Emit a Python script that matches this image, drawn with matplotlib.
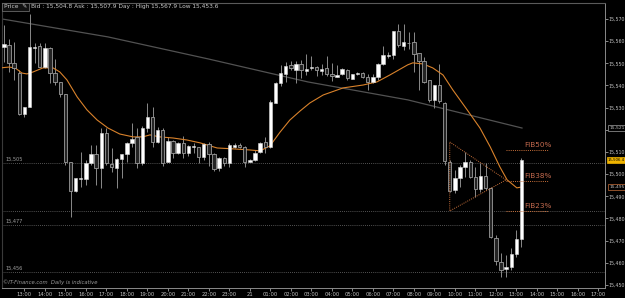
import matplotlib
matplotlib.use("Agg")
import matplotlib.pyplot as plt
import numpy as np

# 15-minute candles, 20th 12:00 -> 21st 13:15
opens = [15557.5, 15558.3, 15550.0, 15545.5, 15527.0, 15530.5, 15556.8, 15558.0, 15548.5, 15556.8,
         15545.8, 15541.7, 15536.2, 15505.6, 15492.6, 15497.8, 15497.7, 15504.9, 15509.0, 15502.6,
         15518.4, 15504.6, 15502.9, 15507.0, 15509.1, 15513.9, 15516.9, 15504.9, 15520.7, 15525.6,
         15514.7, 15519.9, 15505.6, 15515.0, 15509.4, 15513.9, 15509.7, 15512.1, 15512.4, 15507.6,
         15513.6, 15509.1, 15502.6, 15507.2, 15504.9, 15512.4, 15513.2, 15512.4, 15505.6, 15506.4,
         15510.2, 15514.7, 15512.4, 15532.3, 15541.3, 15545.2, 15549.3, 15547.0, 15549.7, 15546.7,
         15547.7, 15548.5, 15546.7, 15547.7, 15545.2, 15544.0, 15545.2, 15547.0, 15543.1, 15545.2,
         15545.8, 15544.0, 15541.7, 15543.7, 15549.7, 15553.3, 15553.8, 15564.6, 15558.0, 15559.3,
         15559.8, 15554.5, 15551.2, 15542.5, 15533.5, 15540.2, 15532.3, 15505.6, 15492.9, 15498.1,
         15503.1, 15505.6, 15498.9, 15493.2, 15499.2, 15493.6, 15471.1, 15460.5, 15457.1, 15458.3,
         15464.0, 15470.6]
highs = [15567.3, 15560.8, 15559.8, 15547.0, 15530.5, 15572.3, 15559.3, 15559.3, 15559.3, 15557.5,
         15551.8, 15541.7, 15536.2, 15505.6, 15498.1, 15510.2, 15506.4, 15513.2, 15513.2, 15520.7,
         15520.7, 15511.7, 15507.2, 15509.1, 15514.7, 15522.9, 15520.7, 15521.7, 15532.3, 15530.2,
         15521.1, 15520.7, 15516.9, 15515.4, 15514.7, 15517.2, 15513.2, 15513.9, 15512.4, 15514.2,
         15514.7, 15509.4, 15507.9, 15507.9, 15513.9, 15514.2, 15514.2, 15512.7, 15506.7, 15510.9,
         15514.7, 15516.6, 15533.5, 15541.7, 15549.3, 15550.8, 15551.2, 15551.2, 15551.5, 15554.2,
         15553.3, 15548.8, 15549.7, 15553.3, 15550.3, 15549.3, 15547.7, 15547.3, 15545.2, 15546.2,
         15546.2, 15545.2, 15545.2, 15550.0, 15557.8, 15555.3, 15564.6, 15567.6, 15567.6, 15564.3,
         15564.3, 15554.5, 15553.0, 15542.5, 15540.2, 15549.7, 15532.7, 15506.4, 15501.9, 15504.2,
         15510.2, 15506.4, 15503.4, 15504.9, 15504.9, 15494.4, 15472.6, 15464.3, 15463.6, 15466.6,
         15474.8, 15507.2]
lows = [15550.8, 15546.2, 15542.5, 15526.7, 15525.6, 15530.5, 15550.0, 15548.5, 15547.7, 15541.0,
        15540.2, 15535.0, 15504.2, 15480.5, 15492.1, 15494.4, 15495.1, 15504.2, 15495.1, 15493.6,
        15504.2, 15501.1, 15493.6, 15498.1, 15505.6, 15512.4, 15502.6, 15504.2, 15519.2, 15512.4,
        15513.9, 15503.8, 15505.4, 15507.2, 15509.1, 15507.2, 15508.2, 15509.4, 15504.9, 15506.4,
        15503.7, 15501.6, 15501.4, 15503.8, 15503.4, 15511.7, 15511.7, 15503.4, 15505.4, 15506.1,
        15509.7, 15509.4, 15511.7, 15532.0, 15539.8, 15541.7, 15547.0, 15541.3, 15543.2, 15544.7,
        15547.0, 15544.3, 15544.7, 15544.3, 15542.0, 15543.7, 15544.7, 15542.5, 15542.8, 15544.7,
        15543.2, 15538.0, 15541.3, 15542.5, 15549.3, 15552.3, 15551.8, 15557.5, 15556.0, 15556.3,
        15546.2, 15538.0, 15541.0, 15532.7, 15529.7, 15532.0, 15504.2, 15492.1, 15491.4, 15494.4,
        15498.9, 15498.1, 15489.9, 15492.1, 15492.9, 15471.1, 15459.0, 15453.8, 15453.8, 15456.8,
        15462.8, 15467.3]
closes = [15558.6, 15550.0, 15547.7, 15527.0, 15530.5, 15557.5, 15557.5, 15548.5, 15556.8, 15545.8,
          15541.7, 15536.2, 15505.6, 15492.6, 15498.1, 15498.4, 15504.9, 15509.0, 15502.6, 15518.4,
          15504.9, 15503.4, 15506.8, 15509.1, 15513.9, 15515.7, 15504.9, 15520.7, 15525.6, 15514.7,
          15519.9, 15504.9, 15515.0, 15509.4, 15514.2, 15509.7, 15512.7, 15512.7, 15507.6, 15513.5,
          15509.1, 15502.2, 15507.2, 15504.9, 15513.2, 15513.2, 15512.3, 15505.6, 15506.4, 15509.7,
          15514.2, 15512.4, 15532.7, 15541.0, 15545.5, 15548.8, 15547.7, 15549.7, 15547.0, 15547.4,
          15548.5, 15547.0, 15547.4, 15545.2, 15544.3, 15544.7, 15547.3, 15543.2, 15545.2, 15545.8,
          15544.0, 15541.7, 15544.0, 15549.7, 15553.8, 15553.8, 15564.6, 15558.3, 15559.8, 15559.0,
          15554.2, 15551.2, 15541.7, 15533.5, 15540.2, 15533.0, 15506.1, 15492.6, 15498.1, 15503.4,
          15505.6, 15498.9, 15493.2, 15499.2, 15493.6, 15471.5, 15460.8, 15456.8, 15458.3, 15464.0,
          15470.6, 15506.4]

# moving averages (candle index, price)
fast_ma_idx = [-0.8, 1, 2.2, 3.5, 4.5, 5.7, 7.6, 9.6, 10.9, 12.3, 14.3, 16.2, 18.2, 20.3, 22.6, 25.2,
               27.1, 28.5, 30.4, 33, 35.7, 38.3, 41.6, 44.7, 48, 50, 51.9, 53.9, 55.8, 57.8, 59.7,
               62.3, 66.2, 70.1, 72.8, 75.3, 78.8, 79.8, 81.8, 83.7, 85.7, 87.6, 90.4, 92.9, 94.9,
               96.8, 98.2, 100.1, 101]
fast_ma = [15547.9, 15548.3, 15547.9, 15545.6, 15545.2, 15546.1, 15547.9, 15547.9, 15546.1, 15542.5,
           15534.8, 15529.0, 15524.4, 15520.8, 15518.1, 15516.8, 15516.8, 15517.7, 15516.8, 15516.3,
           15515.4, 15514.1, 15511.8, 15511.4, 15510.9, 15510.5, 15512.7, 15519.0, 15524.4, 15528.5,
           15532.1, 15535.7, 15538.9, 15540.2, 15541.6, 15544.7, 15549.3, 15550.2, 15549.7, 15547.9,
           15544.7, 15538.0, 15529.0, 15520.8, 15512.3, 15503.2, 15497.4, 15493.8, 15494.2]
slow_ma_idx = [-0.4, 20.3, 39.8, 59.3, 78.8, 101.1]
slow_ma = [15570.0, 15561.9, 15552.0, 15541.6, 15533.5, 15520.8]

# horizontal levels
levels = [15505, 15483.3, 15477, 15456]
level_labels = ["15,505", "", "15,477", "15,456"]

# triangle + fib
tri_idx = [87, 98, 87, 87]
tri_px = [15514.5, 15497.4, 15483.4, 15514.5]
fib_names = ["FIB50%", "FIB38%", "FIB23%"]
fib_vals = [15510.9, 15496.9, 15483.4]

tick_pos = list(range(4, 117, 4))
tick_labels = ["13:00", "14:00", "15:00", "16:00", "17:00", "18:00", "19:00", "20:00", "21:00",
               "22:00", "23:00", "21", "01:00", "02:00", "03:00", "04:00", "05:00", "06:00",
               "07:00", "08:00", "09:00", "10:00", "11:00", "12:00", "13:00", "14:00", "15:00",
               "16:00", "17:00"]

BG = "#000000"
fig = plt.figure(figsize=(6.25, 2.98), dpi=100, facecolor=BG)
ax = fig.add_axes([0.003, 0.034, 0.965, 0.956], facecolor=BG)

n = len(opens)
x = np.arange(n)
o = np.array(opens); c = np.array(closes)
h = np.array(highs); l = np.array(lows)

# levels
for lv, lb in zip(levels, level_labels):
    ax.axhline(lv, color="#6e6e6e", lw=0.6, ls=(0, (1, 1.5)), zorder=1)
    if lb:
        ax.text(0.3, lv + 0.6, lb, color="#a0a0a0", fontsize=3.6, va="bottom", ha="left")

# moving averages
ax.plot(slow_ma_idx, slow_ma, color="#525252", lw=0.9, zorder=2)
ax.plot(fast_ma_idx, fast_ma, color="#d9822b", lw=0.8, zorder=4)

# candles
ax.vlines(x, l, h, color="#8a8a8a", lw=0.7, zorder=3)
up = c >= o
body = np.maximum(np.abs(c - o), 0.35)
ax.bar(x[up], body[up], bottom=np.minimum(o, c)[up], width=0.66,
       color="#ffffff", edgecolor="#d8d8d8", lw=0.4, zorder=5)
ax.bar(x[~up], body[~up], bottom=np.minimum(o, c)[~up], width=0.66,
       color="#242424", edgecolor="#9c9c9c", lw=0.6, zorder=5)

# triangle and fib lines
fib_col = "#c8703a"
ax.plot(tri_idx, tri_px, color=fib_col, lw=0.7, ls=(0, (1, 1.2)), zorder=6)
for nm, fv in zip(fib_names, fib_vals):
    ax.plot([98, 106.2], [fv, fv], color=fib_col, lw=0.7, ls=(0, (1, 1.2)), zorder=6)
    ax.text(101.6, fv + 0.8, nm, color="#c46a4e", fontsize=5.2, va="bottom", ha="left")

ax.set_xlim(-0.4, 117.3)
ax.set_ylim(15448.7, 15577.2)

# right price axis (15,520 sits under the MA box)
yt = np.arange(15450, 15571, 10)
ax.set_yticks(yt)
ax.set_yticklabels(["" if v == 15520 else "{:,.0f}".format(v) for v in yt])
ax.yaxis.tick_right()
ax.tick_params(axis="y", labelsize=3.4, colors="#c0c0c0", length=2, width=0.5, pad=0.8)
ax.set_xticks(tick_pos)
ax.set_xticklabels(tick_labels)
ax.tick_params(axis="x", labelsize=3.8, colors="#c0c0c0", length=2, width=0.5, pad=1)
for s in ["right", "bottom"]:
    ax.spines[s].set_color("#8a8a8a")
    ax.spines[s].set_linewidth(0.7)
ax.spines["top"].set_color("#5a5a5a")
ax.spines["left"].set_color("#3a3a3a")

# price boxes on the axis
box_kw = dict(va="center", ha="left", transform=ax.get_yaxis_transform(), clip_on=False)
ax.text(1.007, 15520.8, "15,521", color="#c0c0c0", fontsize=3.2,
        bbox=dict(boxstyle="square,pad=0.2", fc=BG, ec="#a0a0a0", lw=0.5), **box_kw)
ax.text(1.005, 15506.4, "15,506.4", color="#000000", fontsize=2.8,
        bbox=dict(boxstyle="square,pad=0.15", fc="#f0b400", ec="#f0b400", lw=0.5), **box_kw)
ax.text(1.007, 15494.2, "15,495", color="#c0c0c0", fontsize=3.2,
        bbox=dict(boxstyle="square,pad=0.2", fc=BG, ec="#c8703a", lw=0.5), **box_kw)

# header
fig.text(0.006, 0.977, "Price  \u270e", color="#c8c8c8", fontsize=4.2, va="center", ha="left",
         bbox=dict(boxstyle="square,pad=0.3", fc="#101010", ec="#7a7a7a", lw=0.5))
fig.text(0.05, 0.977, "Bid : 15,504.8 Ask : 15,507.9 Day : High 15,567.9 Low 15,453.6",
         color="#c8c8c8", fontsize=4.2, va="center", ha="left")
fig.text(0.005, 0.052, "\u00a9IT-Finance.com  Daily is indicative", color="#9a9a9a",
         fontsize=3.8, style="italic", va="center", ha="left")

fig.savefig("out.png", dpi=100, facecolor=BG)
